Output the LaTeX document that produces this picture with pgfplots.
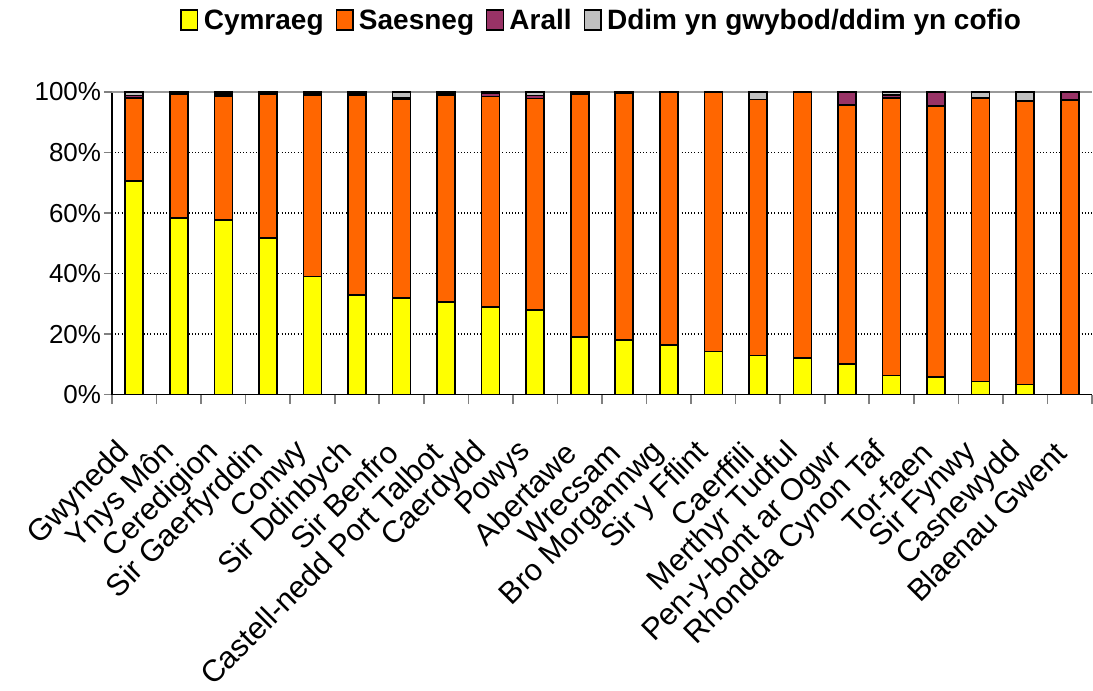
\documentclass[border=0pt]{standalone}
\usepackage{fontspec}
\setmainfont{Liberation Sans}
\usepackage{pgfplots}
\pgfplotsset{compat=1.18}
\usepackage{pgfplotstable}

\definecolor{cym}{HTML}{FFFF00}
\definecolor{sae}{HTML}{FF6600}
\definecolor{ara}{HTML}{993366}
\definecolor{ddi}{HTML}{C0C0C0}

% x  Cymraeg  Saesneg  Arall  Ddim
\pgfplotstableread{
x  C     S     A    D
0  70.6  27.4  0.8  1.2
1  58.4  40.9  0.3  0.4
2  57.8  40.9  0.6  0.7
3  51.8  47.6  0.3  0.3
4  39.0  59.8  0.6  0.6
5  33.0  66.0  0.5  0.5
6  32.0  65.7  0.5  1.8
7  30.7  68.3  0.5  0.5
8  29.0  69.5  1.0  0.5
9  28.0  69.9  1.0  1.1
10 19.0  80.3  0.3  0.4
11 18.0  81.7  0.1  0.2
12 16.5  83.5  0.0  0.0
13 14.2  85.8  0.0  0.0
14 12.9  84.6  0.0  2.5
15 12.2  87.8  0.0  0.0
16 10.2  85.5  4.3  0.0
17 6.3   91.7  1.0  1.0
18 5.9   89.4  4.7  0.0
19 4.3   93.7  0.0  2.0
20 3.3   93.7  0.0  3.0
21 0.0   97.4  2.6  0.0
}\data

\begin{document}
\begin{tikzpicture}
\begin{axis}[
  scale only axis,
  width=735pt, height=227pt,
  xmin=-0.5, xmax=21.5, ymin=0, ymax=100,
  ybar stacked, bar width=13.5pt,
  axis x line=bottom, axis y line=left,
  axis line style={-, line width=1.2pt},
  xtick={0,...,21},
  xticklabels={Gwynedd,Ynys Môn,Ceredigion,Sir Gaerfyrddin,Conwy,Sir Ddinbych,Sir Benfro,Castell-nedd Port Talbot,Caerdydd,Powys,Abertawe,Wrecsam,Bro Morgannwg,Sir y Fflint,Caerffili,Merthyr Tudful,Pen-y-bont ar Ogwr,Rhondda Cynon Taf,Tor-faen,Sir Fynwy,Casnewydd,Blaenau Gwent},
  major x tick style={draw=none},
  minor xtick={-0.5,0.5,...,21.5},
  minor x tick style={line width=1.2pt},
  tick align=outside,
  minor tick length=7pt, major tick length=6pt,
  y tick style={line width=1.2pt},
  ytick={0,20,40,60,80},
  extra y ticks={100},
  extra y tick style={grid style={gray!80, solid, line width=1.2pt}},
  ymajorgrids,
  grid style={black, dotted, line width=1pt},
  /pgf/number format/assume math mode=true,
  yticklabel={\pgfmathprintnumber{\tick}\%},
  yticklabel style={inner sep=2pt, font=\fontsize{19.5}{22}\selectfont},
  xticklabel style={xshift=-6pt, yshift=-33pt, rotate=45, anchor=east, inner sep=1pt,
    font=\fontsize{23}{26}\selectfont},
  every axis plot/.append style={draw=black, line width=1.2pt},
  legend style={at={(0.5,1)}, anchor=south, yshift=41pt, draw=none,
    legend columns=-1, font=\bfseries\fontsize{21}{24}\selectfont,
    /tikz/every even column/.append style={column sep=7pt},
    /tikz/every odd column/.append style={column sep=2pt}},
  legend image code/.code={\draw[#1, line width=1pt] (0pt,-7pt) rectangle (12.5pt,8pt);},
]
\addplot[fill=cym] table[x=x,y=C]{\data};
\addplot[fill=sae] table[x=x,y=S]{\data};
\addplot[fill=ara] table[x=x,y=A]{\data};
\addplot[fill=ddi] table[x=x,y=D]{\data};
\legend{Cymraeg,Saesneg,Arall,Ddim yn gwybod/ddim yn cofio}
\end{axis}
\path (current axis.south west) ++(-84pt,-222pt) coordinate (bbA);
\path (current axis.north east) ++(0.75pt,69pt) coordinate (bbB);
\useasboundingbox (bbA) rectangle (bbB);
\end{tikzpicture}
\end{document}
